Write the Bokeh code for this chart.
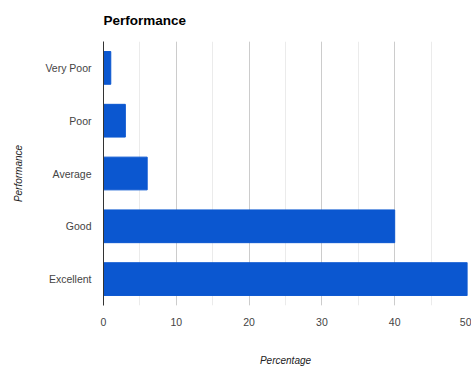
from bokeh.plotting import figure
from bokeh.models import FactorRange, Range1d, SingleIntervalTicker, ColumnDataSource
from bokeh.embed import file_html
from bokeh.resources import INLINE

categories = ["Very Poor", "Poor", "Average", "Good", "Excellent"]
percentages = [1, 3, 6, 40, 50]
x_ticks_interval = 10
chart_title = "Performance"

FONT = "Liberation Sans"

src = ColumnDataSource(dict(cat=categories, val=percentages))

p = figure(width=471, height=368, output_backend="svg", toolbar_location=None,
           y_range=FactorRange(factors=categories[::-1]),
           x_range=Range1d(0, 50),
           min_border_left=103, min_border_right=4, min_border_top=41, min_border_bottom=59)

p.hbar(y="cat", right="val", left=0, height=0.62, source=src,
       fill_color="#0b57d0", line_color="#0b57d0")

p.title.text = chart_title
p.title.text_font = FONT
p.title.text_font_size = "13.5px"
p.title.text_font_style = "bold"
p.title.text_color = "#000000"
p.title.align = "left"
p.title.vertical_align = "top"
p.title.standoff = 24

p.xaxis.ticker = SingleIntervalTicker(interval=x_ticks_interval, num_minor_ticks=2)
p.xgrid.ticker = p.xaxis.ticker
p.xgrid.grid_line_color = "#cccccc"
p.xgrid.minor_grid_line_color = "#ebebeb"
p.ygrid.grid_line_color = None

p.xaxis.axis_line_color = None
p.xaxis.major_tick_line_color = None
p.xaxis.minor_tick_line_color = None
p.xaxis.major_label_standoff = 6
p.xaxis.major_label_text_font = FONT
p.xaxis.major_label_text_font_size = "10.5px"
p.xaxis.major_label_text_color = "#444444"
p.xaxis.axis_label = "Percentage"
p.xaxis.axis_label_text_font = FONT
p.xaxis.axis_label_text_font_size = "10px"
p.xaxis.axis_label_text_font_style = "italic"
p.xaxis.axis_label_text_color = "#222222"
p.xaxis.axis_label_standoff = 26

p.yaxis.axis_line_color = "#333333"
p.yaxis.major_tick_line_color = None
p.yaxis.minor_tick_line_color = None
p.yaxis.major_label_standoff = 6
p.yaxis.major_label_text_font = FONT
p.yaxis.major_label_text_font_size = "10.5px"
p.yaxis.major_label_text_color = "#444444"
p.yaxis.axis_label = "Performance"
p.yaxis.axis_label_text_font = FONT
p.yaxis.axis_label_text_font_size = "10px"
p.yaxis.axis_label_text_font_style = "italic"
p.yaxis.axis_label_text_color = "#222222"
p.yaxis.axis_label_standoff = 18

p.outline_line_color = None
p.background_fill_color = "white"

open("out.html", "w").write(file_html(p, INLINE))
